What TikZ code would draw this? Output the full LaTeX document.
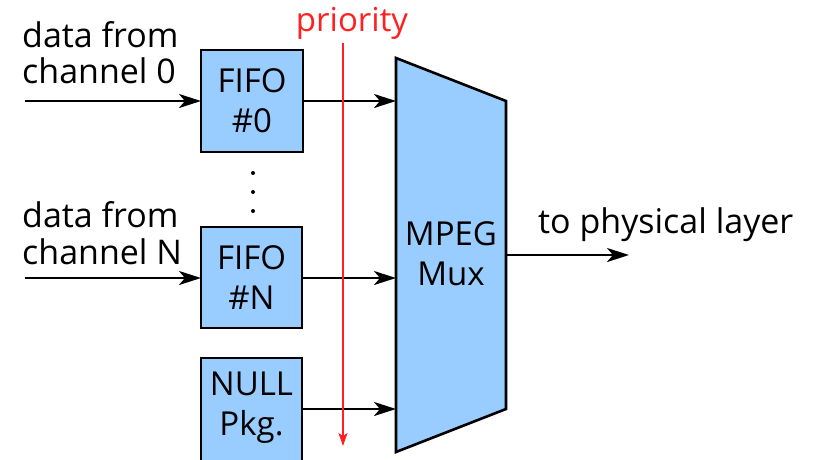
\documentclass[tikz,border=0pt]{standalone}
\usepackage{fontspec}
\setmainfont{Open Sans}
\usetikzlibrary{arrows.meta}
\definecolor{boxblue}{HTML}{99CCFF}
\definecolor{prio}{HTML}{FF2020}
\begin{document}
\begin{tikzpicture}[x=1pt,y=-1pt,
  blk/.style={draw=black,line width=2.6pt,fill=boxblue},
  lbl/.style={font=\fontsize{33}{40}\selectfont,align=center,inner sep=0pt},
  side/.style={font=\fontsize{34}{37}\selectfont,inner sep=0pt,anchor=base west},
  conn/.style={line width=2.6pt,-{Stealth[length=22pt,width=14pt,inset=6pt]}}]
\useasboundingbox (0,0) rectangle (817,459);
\clip (0,0) rectangle (817,459);
% boxes
\draw[blk] (201,50) rectangle (303,152);
\node[lbl] (f0) at (252,101) {FIFO\\\#0};
\draw[blk] (201,227) rectangle (302,328);
\node[lbl] (fn) at (251.5,277.5) {FIFO\\\#N};
\draw[blk] (201,358) rectangle (302,470);
\node[lbl] (nl) at (251.5,408) {NULL\\Pkg.};
\coordinate (f0e) at (303,101);
\coordinate (fne) at (302,278);
\coordinate (nle) at (302,409);
\coordinate (f0w) at (201,101);
\coordinate (fnw) at (201,278);
% mux
\draw[blk,line join=miter] (396,58) -- (506,101) -- (506,409) -- (396,452) -- cycle;
\node[lbl] (mux) at (451,254) {MPEG\\Mux};
\coordinate (m0) at (396,101);
\coordinate (mn) at (396,278);
\coordinate (mnull) at (396,409);
\coordinate (mout) at (506,255);
% dots
\foreach \yy in {173,192,211} \fill (253,\yy) circle (2pt);
% arrows
\coordinate (in0) at (25,101);
\coordinate (inN) at (25,278);
\coordinate (outE) at (629,255);
\draw[conn] (in0) -- (f0w);
\draw[conn] (inN) -- (fnw);
\draw[conn] (f0e) -- (m0);
\draw[conn] (fne) -- (mn);
\draw[conn] (nle) -- (mnull);
\draw[conn] (mout) -- (outE);
% priority
\node[lbl,text=prio,anchor=base] (prt) at (352,31) {priority};
\coordinate (pt) at (343,43);
\coordinate (pb) at (343,446);
\draw[prio,line width=1.8pt,-{Stealth[length=13pt,width=9pt,inset=3pt]}] (pt) -- (pb);
% texts
\node[side] (t0) at (22,47) {data from};
\node[side] (t0b) at (22,83) {channel 0};
\node[side] (tn) at (22,227) {data from};
\node[side] (tnb) at (22,264) {channel N};
\node[side] (tp) at (538,233) {to physical layer};
\end{tikzpicture}
\end{document}
